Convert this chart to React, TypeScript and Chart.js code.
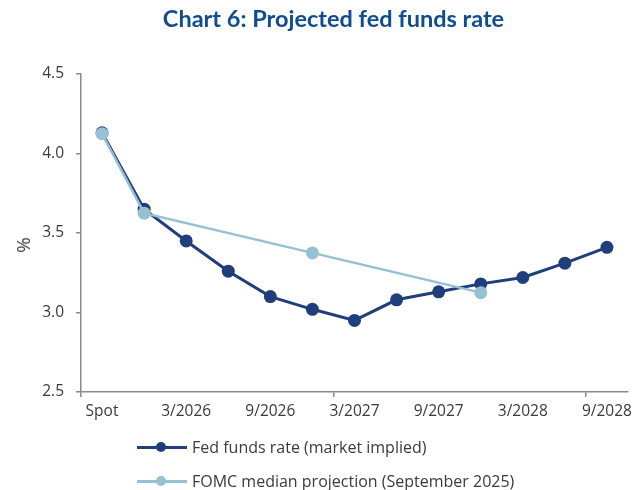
import React, { useEffect, useRef } from "react";
import { Chart, registerables } from "chart.js";

Chart.register(...registerables);

const categories = [
  "Spot", "12/2025", "3/2026", "6/2026", "9/2026", "12/2026", "3/2027",
  "6/2027", "9/2027", "12/2027", "3/2028", "6/2028", "9/2028",
];
const marketImplied = [4.13, 3.65, 3.45, 3.26, 3.1, 3.02, 2.95, 3.08, 3.13, 3.18, 3.22, 3.31, 3.41];
const fomcMedian = [4.125, 3.625, null, null, null, 3.375, null, null, null, 3.125, null, null, null];
const yTicks = [2.5, 3.0, 3.5, 4.0, 4.5];
const seriesNames = ["Fed funds rate (market implied)", "FOMC median projection (September 2025)"];

const NAVY = "#213E7C";
const LIGHT = "#97C0D4";
const AXIS = "#8a8a8a";
const TEXT = "#3a3a3a";
const FONT = "'Open Sans', Lato, sans-serif";
const TITLE_FONT = "Lato, 'Open Sans', sans-serif";

export default function App() {
  const ref = useRef<HTMLCanvasElement | null>(null);
  useEffect(() => {
    document.body.style.margin = "0";
    const chart = new Chart(ref.current!, {
      type: "line",
      data: {
        labels: categories,
        datasets: [
          {
            label: seriesNames[0],
            data: marketImplied,
            borderColor: NAVY,
            backgroundColor: NAVY,
            borderWidth: 3,
            pointRadius: 6.5,
            pointBorderWidth: 0,
            pointBackgroundColor: NAVY,
            tension: 0,
            order: 2,
          },
          {
            label: seriesNames[1],
            data: fomcMedian,
            borderColor: LIGHT,
            backgroundColor: LIGHT,
            borderWidth: 2.5,
            pointRadius: 6.5,
            pointBorderWidth: 0,
            pointBackgroundColor: LIGHT,
            spanGaps: true,
            tension: 0,
            order: 1,
          },
        ],
      },
      options: {
        responsive: false,
        animation: false,
        maintainAspectRatio: false,
        layout: { padding: { left: 0, top: 74, right: 15, bottom: 0 } },
        plugins: {
          legend: { display: false },
          tooltip: { enabled: false },
          title: { display: false },
        },
        scales: {
          x: {
            type: "category",
            offset: true,
            afterFit: (s: any) => {
              s.height = 98;
            },
            grid: {
              offset: true,
              drawOnChartArea: false,
              drawTicks: true,
              tickLength: 5,
              lineWidth: 1.5,
              color: (ctx: any) => (ctx.index % 6 === 0 ? AXIS : "rgba(0,0,0,0)"),
            },
            border: { display: true, color: AXIS, width: 1.5 },
            ticks: {
              autoSkip: false,
              maxRotation: 0,
              minRotation: 0,
              padding: 5,
              color: TEXT,
              font: { family: FONT, size: 15.5 },
              callback: (_v: any, i: number) => (i % 2 === 0 ? categories[i] : ""),
            },
          },
          y: {
            min: yTicks[0],
            max: yTicks[yTicks.length - 1],
            afterFit: (s: any) => {
              s.width = 81;
            },
            afterBuildTicks: (s: any) => {
              s.ticks = yTicks.map((v) => ({ value: v }));
            },
            grid: {
              drawOnChartArea: false,
              drawTicks: true,
              tickLength: 5,
              lineWidth: 1.5,
              color: AXIS,
            },
            border: { display: true, color: AXIS, width: 1.5 },
            ticks: {
              padding: 12,
              color: TEXT,
              font: { family: FONT, size: 15.5 },
              callback: (v: any) => Number(v).toFixed(1),
            },
          },
        },
      },
    });
    return () => chart.destroy();
  }, []);

  const legendRow = (name: string, color: string, top: number, lw: number) => (
    <div style={{ position: "absolute", left: 137, top: top - 12, height: 24, display: "flex", alignItems: "center" }}>
      <div style={{ position: "relative", width: 50, height: 24, flex: "none" }}>
        <div style={{ position: "absolute", left: 0, top: 12 - lw / 2, width: 50, height: lw, background: color }} />
        <div style={{ position: "absolute", left: 19, top: 7, width: 10, height: 10, borderRadius: 5, background: color }} />
      </div>
      <span style={{ marginLeft: 5, fontFamily: FONT, fontSize: 16, color: TEXT, whiteSpace: "nowrap" }}>{name}</span>
    </div>
  );

  return (
    <div style={{ position: "fixed", left: 0, top: 0, width: 643, height: 490, background: "#fff", overflow: "hidden" }}>
      <canvas ref={ref} width={643} height={490} style={{ position: "absolute", left: 0, top: 0, width: 643, height: 490 }} />
      <div style={{ position: "absolute", left: 0, width: 643, top: 0, height: 36, lineHeight: "36px", textAlign: "center", paddingLeft: 24, boxSizing: "border-box", fontFamily: TITLE_FONT, fontWeight: 700, fontSize: 23.5, color: "#0F4C91", whiteSpace: "nowrap" }}>
        Chart 6: Projected fed funds rate
      </div>
      <div style={{ position: "absolute", left: 23, top: 245, transform: "translate(-50%, -50%) rotate(-90deg)", fontFamily: FONT, fontSize: 19, color: TEXT }}>
        %
      </div>
      {legendRow(seriesNames[0], NAVY, 447, 3)}
      {legendRow(seriesNames[1], LIGHT, 481, 3)}
    </div>
  );
}
